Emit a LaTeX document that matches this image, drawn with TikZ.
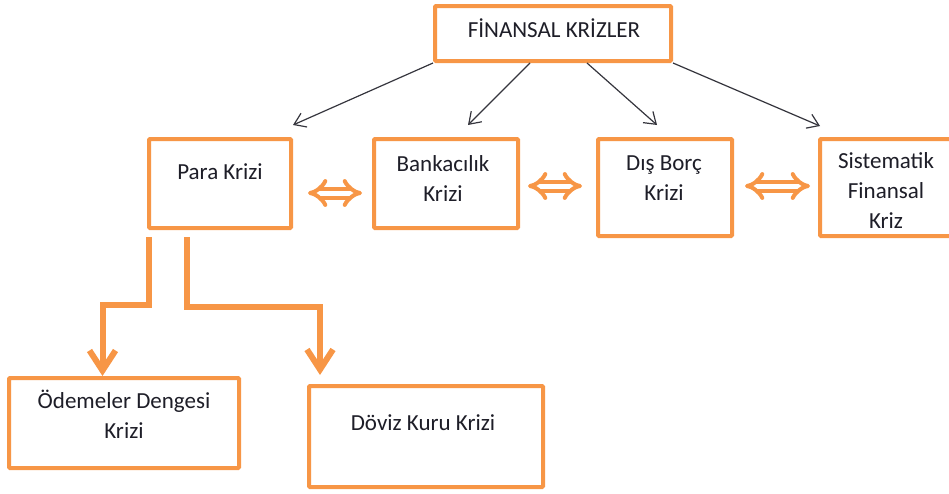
\documentclass[tikz,border=0pt]{standalone}
\usepackage{fontspec}
\setmainfont{Carlito}
\usetikzlibrary{arrows.meta}
\definecolor{krizorange}{HTML}{F79646}
\definecolor{ink}{HTML}{1E1E28}
\begin{document}
\begin{tikzpicture}[x=1pt,y=-1pt,
  kutu/.style={draw=krizorange,line width=4pt,rounded corners=1pt,fill=white,inner sep=0pt},
  yazi/.style={font=\fontsize{23}{30}\selectfont,text=ink,align=center,inner sep=0pt},
  ince/.style={draw=ink!90,line width=1.2pt,-{Straight Barb[length=11pt,width=15pt]}},
  cift/.style={draw=krizorange,line width=4pt,double=white,double distance=5pt,{Implies}-{Implies}},
  kalin/.style={draw=krizorange,line width=6pt,-{Straight Barb[length=20pt,width=26pt]}}]
\useasboundingbox (0,0) rectangle (949,493);
\clip (0,0) rectangle (949,493);
% kutular
\node[kutu,minimum width=236pt,minimum height=55pt] (ust) at (553,33.5) {};
\node[kutu,minimum width=142pt,minimum height=89pt] (para) at (220,183.5) {};
\node[kutu,minimum width=144pt,minimum height=89pt] (banka) at (446,183.5) {};
\node[kutu,minimum width=134pt,minimum height=97pt] (dis) at (665,187.5) {};
\node[kutu,minimum width=132pt,minimum height=97pt] (sist) at (886,187.5) {};
\node[kutu,minimum width=230pt,minimum height=90pt] (odeme) at (124,423) {};
\node[kutu,minimum width=234pt,minimum height=101pt] (doviz) at (426,436.5) {};
% yazilar
\node[yazi] (ustY) at (554,28) {FİNANSAL KRİZLER};
\node[yazi] (paraY) at (220,172) {Para Krizi};
\node[yazi] (bankaY) at (443,178.5) {Bankacılık\\Krizi};
\node[yazi] (disY) at (664,178) {Dış Borç\\Krizi};
\node[yazi] (sistY) at (886,190.5) {Sistematik\\Finansal\\Kriz};
\node[yazi] (odemeY) at (124,414) {Ödemeler Dengesi\\Krizi};
\node[yazi] (dovizY) at (423,423) {Döviz Kuru Krizi};
% ince oklar
\draw[ince] (ust.south west) -- ([yshift=12pt]para.north east);
\draw[ince] ([xshift=-23pt]ust.south) -- ([xshift=22pt,yshift=12pt]banka.north);
\draw[ince] ([xshift=34pt]ust.south) -- ([xshift=-8pt,yshift=12pt]dis.north);
\draw[ince] (ust.south east) -- ([xshift=2pt,yshift=11pt]sist.north west);
% cift oklar
\draw[cift,shorten <=15pt,shorten >=10pt] ([yshift=-9.5pt]para.east) -- ([yshift=-9.5pt]banka.west);
\draw[cift,shorten <=8pt,shorten >=14pt] ([yshift=-2.5pt]banka.east) -- ([yshift=1.5pt]dis.west);
\draw[cift,shorten <=11pt,shorten >=8pt] ([yshift=1.5pt]dis.east) -- ([yshift=1.5pt]sist.west);
% kalin oklar
\draw[kalin] ([xshift=1.5pt,yshift=-7pt]para.south west) -- ++(0,68) -| ([xshift=95.5pt]odeme.north west);
\draw[kalin] ([xshift=39.5pt,yshift=-7pt]para.south west) -- ++(0,70) -| ([xshift=13pt,yshift=9pt]doviz.north west);
\end{tikzpicture}
\end{document}
